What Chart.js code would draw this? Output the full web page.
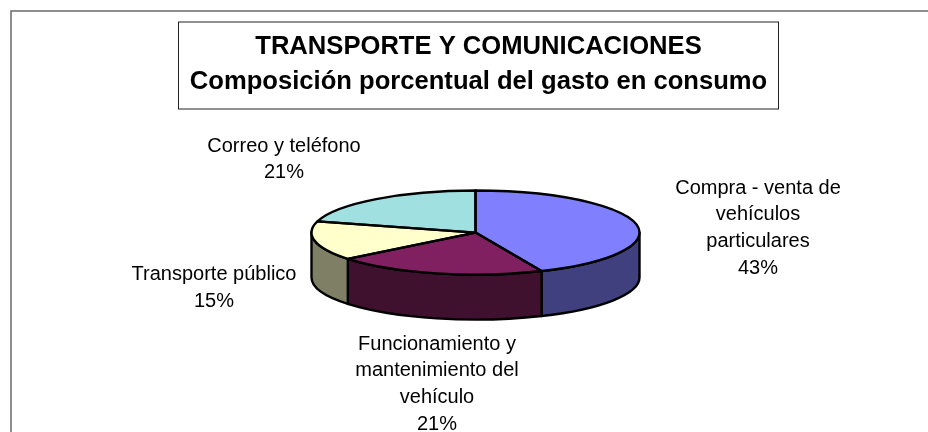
<!DOCTYPE html>
<html>
<head>
<meta charset="utf-8">
<style>html,body{margin:0;padding:0;background:#fff}canvas{display:block}</style>
<script src="https://cdn.jsdelivr.net/npm/chart.js@4"></script>
</head>
<body>
<canvas id="c" width="928" height="432"></canvas>
<script>
const categories = ["Compra - venta de vehículos particulares","Funcionamiento y mantenimiento del vehículo","Transporte público","Correo y teléfono"];
const values = [43.4, 20.8, 15.1, 20.7];
const titleLines = ["TRANSPORTE Y COMUNICACIONES","Composición porcentual del gasto en consumo"];
const labelLines = [
  ["Compra - venta de","vehículos","particulares","43%"],
  ["Funcionamiento y","mantenimiento del","vehículo","21%"],
  ["Transporte público","15%"],
  ["Correo y teléfono","21%"]
];
const topColors = ["#8080FF","#802060","#FFFFCC","#A0E0E0"];
const sideColors = ["#40407F","#40102F","#7F7F66","#507070"];

const SQUASH = 42/164, DEPTH = 45;
const labelPlace = [
  {x:758, y:188, step:26.7},
  {x:437, y:344, step:26.7},
  {x:214, y:274.5, step:26.5},
  {x:284, y:146, step:26.7}
];
const FONT = '"Liberation Sans", Arial, sans-serif';

const pie3d = {
  id:'pie3d',
  afterLayout(chart){ chart.titleBlock.left += 3; chart.titleBlock.right += 3; },
  beforeDraw(chart){
    const c = chart.ctx;
    c.save();
    c.fillStyle='#fff'; c.fillRect(0,0,928,432);
    c.strokeStyle='#6a6a6a'; c.lineWidth=1.5;
    c.beginPath(); c.moveTo(11,432); c.lineTo(11,11); c.lineTo(928,11); c.stroke();
    c.strokeStyle='#222'; c.lineWidth=1;
    c.strokeRect(178.5,22,600,87);
    c.restore();
  },
  beforeDatasetsDraw(chart){
    const c = chart.ctx, arcs = chart.getDatasetMeta(0).data;
    c.save();
    c.lineWidth=2.4; c.strokeStyle='#000'; c.lineJoin='round';
    arcs.forEach((a,i)=>{
      const s=Math.max(a.startAngle,0), e=Math.min(a.endAngle,Math.PI);
      if(e<=s) return;
      const r=a.outerRadius, ry=r*SQUASH;
      c.beginPath();
      c.ellipse(a.x,a.y,r,ry,0,s,e);
      c.ellipse(a.x,a.y+DEPTH,r,ry,0,e,s,true);
      c.closePath();
      c.fillStyle=sideColors[i];
      c.fill(); c.stroke();
    });
    c.restore();
    const a0=arcs[0];
    c.save();
    c.translate(a0.x,a0.y); c.scale(1,SQUASH); c.translate(-a0.x,-a0.y);
  },
  afterDatasetsDraw(chart){
    const c = chart.ctx, arcs = chart.getDatasetMeta(0).data;
    c.restore();
    c.save();
    c.lineWidth=2.4; c.strokeStyle='#000'; c.lineJoin='round';
    arcs.forEach(a=>{
      const r=a.outerRadius, ry=r*SQUASH;
      c.beginPath();
      c.moveTo(a.x,a.y);
      c.ellipse(a.x,a.y,r,ry,0,a.startAngle,a.endAngle);
      c.closePath();
      c.stroke();
    });
    c.fillStyle='#000'; c.font='20px '+FONT; c.textAlign='center'; c.textBaseline='middle';
    labelLines.forEach((lines,i)=>{
      const p=labelPlace[i];
      lines.forEach((t,j)=>c.fillText(t,p.x,p.y+j*p.step));
    });
    c.restore();
  }
};

new Chart(document.getElementById('c'),{
  type:'pie',
  data:{labels:categories,datasets:[{data:values,backgroundColor:topColors,borderWidth:0,radius:164,clip:false}]},
  options:{
    responsive:false,
    animation:false,
    layout:{padding:{left:23,right:0,top:0,bottom:77}},
    plugins:{
      legend:{display:false},
      tooltip:{enabled:false},
      title:{display:true,text:titleLines,color:'#000',
        font:{family:FONT,size:25.6,weight:'bold',lineHeight:1.37},
        padding:{top:29,bottom:11}}
    }
  },
  plugins:[pie3d]
});
</script>
</body>
</html>
